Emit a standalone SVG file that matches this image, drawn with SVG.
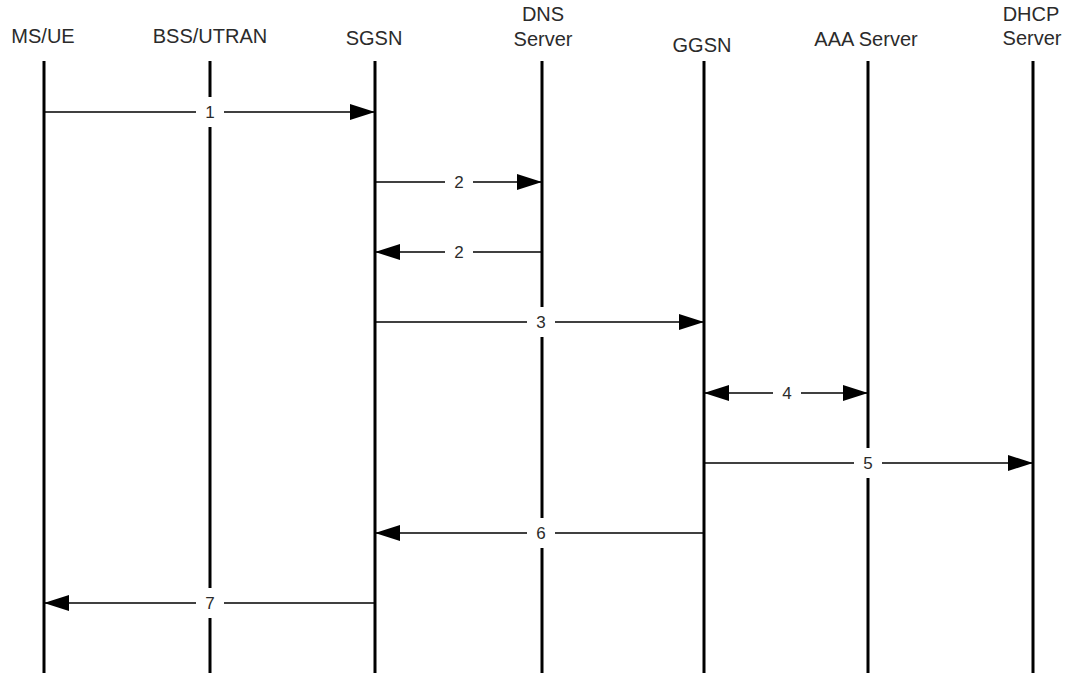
<svg xmlns="http://www.w3.org/2000/svg" width="1074" height="675" viewBox="0 0 1074 675">
<style>
.hd{font-family:"Liberation Sans",Arial,sans-serif;font-size:20px;fill:#2b2b2b;text-anchor:middle}
.life{stroke:#000;stroke-width:3}
.msg{stroke:#000;stroke-width:1.5;fill:none}
.lbl{font-family:"Liberation Sans",Arial,sans-serif;font-size:17px;fill:#2b2b2b;text-anchor:middle}
.gap{fill:#fff}
</style>
<defs>
<marker id="ah" markerUnits="userSpaceOnUse" markerWidth="25" markerHeight="16" refX="25" refY="8" orient="auto-start-reverse">
<path d="M0,0 L25,8 L0,16 z" fill="#000"/>
</marker>
</defs>
<rect width="1074" height="675" fill="#fff"/>
<g id="ms-ue"><text class="hd" x="43" y="43">MS/UE</text><line class="life" x1="44" y1="61" x2="44" y2="673"/></g>
<g id="bss-utran"><text class="hd" x="210" y="43">BSS/UTRAN</text><line class="life" x1="210" y1="61" x2="210" y2="673"/></g>
<g id="sgsn"><text class="hd" x="374" y="45">SGSN</text><line class="life" x1="375" y1="61" x2="375" y2="673"/></g>
<g id="dns-server"><text class="hd" x="543" y="21">DNS</text><text class="hd" x="543" y="46">Server</text><line class="life" x1="542" y1="61" x2="542" y2="673"/></g>
<g id="ggsn"><text class="hd" x="702" y="52">GGSN</text><line class="life" x1="704" y1="61" x2="704" y2="673"/></g>
<g id="aaa-server"><text class="hd" x="866" y="46">AAA Server</text><line class="life" x1="868" y1="61" x2="868" y2="673"/></g>
<g id="dhcp-server"><text class="hd" x="1031" y="21">DHCP</text><text class="hd" x="1032" y="45">Server</text><line class="life" x1="1033" y1="61" x2="1033" y2="673"/></g>
<g id="connectors">
<line class="msg" x1="44" y1="112" x2="375" y2="112" marker-end="url(#ah)"/>
<line class="msg" x1="375" y1="182" x2="542" y2="182" marker-end="url(#ah)"/>
<line class="msg" x1="542" y1="252" x2="375" y2="252" marker-end="url(#ah)"/>
<line class="msg" x1="375" y1="322" x2="704" y2="322" marker-end="url(#ah)"/>
<line class="msg" x1="704" y1="393" x2="868" y2="393" marker-start="url(#ah)" marker-end="url(#ah)"/>
<line class="msg" x1="704" y1="463" x2="1033" y2="463" marker-end="url(#ah)"/>
<line class="msg" x1="704" y1="533" x2="375" y2="533" marker-end="url(#ah)"/>
<line class="msg" x1="375" y1="603" x2="44" y2="603" marker-end="url(#ah)"/>
<rect class="gap" x="196" y="97" width="28" height="30"/><text class="lbl" x="210" y="118">1</text>
<rect class="gap" x="445" y="167" width="28" height="30"/><text class="lbl" x="459" y="188">2</text>
<rect class="gap" x="445" y="237" width="28" height="30"/><text class="lbl" x="459" y="258">2</text>
<rect class="gap" x="527" y="307" width="28" height="30"/><text class="lbl" x="541" y="328">3</text>
<rect class="gap" x="773" y="378" width="28" height="30"/><text class="lbl" x="787" y="399">4</text>
<rect class="gap" x="854" y="448" width="28" height="30"/><text class="lbl" x="868" y="469">5</text>
<rect class="gap" x="527" y="518" width="28" height="30"/><text class="lbl" x="541" y="539">6</text>
<rect class="gap" x="196" y="588" width="28" height="30"/><text class="lbl" x="210" y="609">7</text>
</g>
</svg>
